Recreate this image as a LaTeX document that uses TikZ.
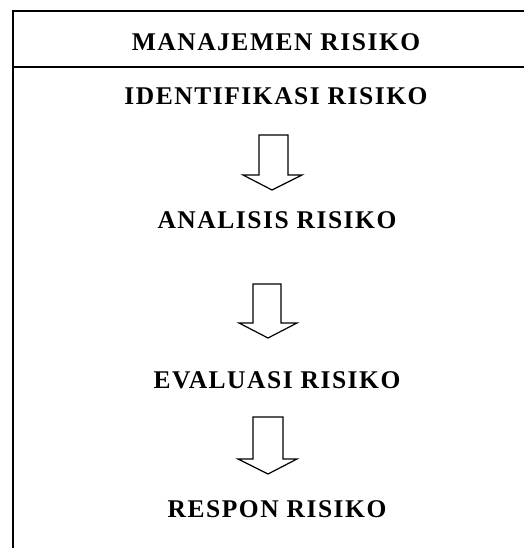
\documentclass[tikz,border=0pt]{standalone}
\usepackage{fontspec}
\setmainfont{Liberation Serif}
\newfontfamily\spacedserif[LetterSpace=6]{Liberation Serif}
\begin{document}
\begin{tikzpicture}[x=1pt,y=-1pt,
  label/.style={font=\spacedserif\fontsize{25.5}{28}\selectfont\bfseries, inner sep=0pt, anchor=center},
  frame/.style={line width=1.4pt, black},
  downarrow/.style={line width=1.2pt, black, line join=miter}]
\useasboundingbox (0,0) rectangle (524,548);
% frame
\coordinate (tl) at (13,11);
\coordinate (tr) at (524,11);
\coordinate (ml) at (13,67);
\coordinate (mr) at (524,67);
\coordinate (bl) at (13,548);
\draw[frame] (tr) -- (tl) -- (bl);
\draw[frame] (ml) -- (mr);
% labels
\node[label] (title) at (276,42) {MANAJEMEN RISIKO};
\node[label] (ident) at (276,96) {IDENTIFIKASI RISIKO};
\node[label] (anal) at (277,220) {ANALISIS RISIKO};
\node[label] (eval) at (277,380) {EVALUASI RISIKO};
\node[label] (resp) at (277,509) {RESPON RISIKO};
% arrows
\draw[downarrow] (259,135) -- (288,135) -- (288,175) -- (302,175) -- (272,190) -- (243,175) -- (259,175) -- cycle;
\draw[downarrow] (253,284) -- (281,284) -- (281,323) -- (297,323) -- (268,338) -- (239,323) -- (253,323) -- cycle;
\draw[downarrow] (253,417) -- (283,417) -- (283,459) -- (297,459) -- (268,474) -- (238,459) -- (253,459) -- cycle;
\end{tikzpicture}
\end{document}
